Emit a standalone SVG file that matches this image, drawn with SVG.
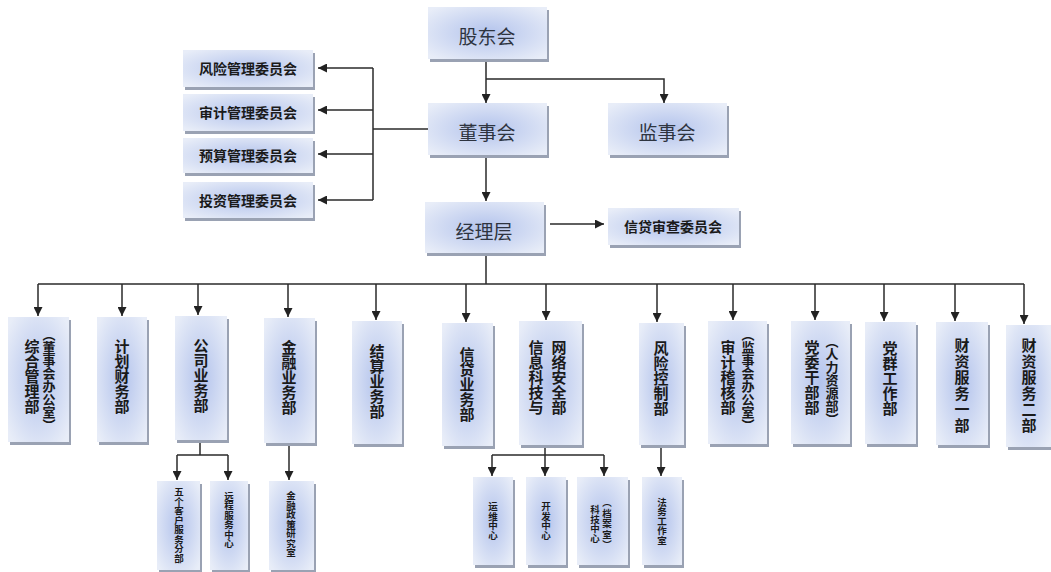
<svg xmlns="http://www.w3.org/2000/svg" width="1051" height="572" viewBox="0 0 1051 572">
<defs>
<radialGradient id="g" cx="50%" cy="50%" r="65%">
<stop offset="0" stop-color="#b3c3ec"/>
<stop offset="1" stop-color="#e8edf8"/>
</radialGradient>
<marker id="a" viewBox="0 0 10 10" refX="10" refY="5" markerWidth="9" markerHeight="9" markerUnits="userSpaceOnUse" orient="auto">
<path d="M0,0 L10,5 L0,10 z" fill="#222"/>
</marker>
<style>
.sh{fill:#9aa2b3}
.bx{fill:url(#g)}
.big{font-family:"Noto Sans CJK SC","Noto Sans",sans-serif;font-size:19px;fill:#2e3440;text-anchor:middle;dominant-baseline:central}
.cm{font-family:"Noto Sans CJK SC","Noto Sans",sans-serif;font-size:14px;font-weight:bold;fill:#1a1a1a;text-anchor:middle;dominant-baseline:central}
.v{font-family:"Noto Sans CJK SC","Noto Sans",sans-serif;font-size:15px;font-weight:bold;fill:#1a1a1a;text-anchor:middle;writing-mode:vertical-rl}
.vp{font-family:"Noto Sans CJK SC","Noto Sans",sans-serif;font-size:13px;font-weight:bold;fill:#1a1a1a;text-anchor:middle;writing-mode:vertical-rl}
.vs{font-family:"Noto Sans CJK SC","Noto Sans",sans-serif;font-size:9.5px;font-weight:bold;fill:#1a1a1a;text-anchor:middle;writing-mode:vertical-rl}
.ln{fill:none;stroke:#2a2a2a;stroke-width:1.5}
</style>
</defs>

<g id="connectors">
<path class="ln" d="M486,59 V103" marker-end="url(#a)"/>
<path class="ln" d="M486,79 H664 V103" marker-end="url(#a)"/>
<path class="ln" d="M428,129 H373"/>
<path class="ln" d="M373,68 V200"/>
<path class="ln" d="M373,68 H318" marker-end="url(#a)"/>
<path class="ln" d="M373,110 H318" marker-end="url(#a)"/>
<path class="ln" d="M373,154 H318" marker-end="url(#a)"/>
<path class="ln" d="M373,200 H318" marker-end="url(#a)"/>
<path class="ln" d="M486,155 V201" marker-end="url(#a)"/>
<path class="ln" d="M550,224 H604" marker-end="url(#a)"/>
<path class="ln" d="M486,253 V284"/>
<path class="ln" d="M38,284 H1024"/>
<path class="ln" d="M38,284 V316" marker-end="url(#a)"/>
<path class="ln" d="M122,284 V316" marker-end="url(#a)"/>
<path class="ln" d="M198,284 V315" marker-end="url(#a)"/>
<path class="ln" d="M288,284 V317" marker-end="url(#a)"/>
<path class="ln" d="M376,284 V320" marker-end="url(#a)"/>
<path class="ln" d="M466,284 V322" marker-end="url(#a)"/>
<path class="ln" d="M546,284 V320" marker-end="url(#a)"/>
<path class="ln" d="M657,284 V322" marker-end="url(#a)"/>
<path class="ln" d="M733,284 V320" marker-end="url(#a)"/>
<path class="ln" d="M815,284 V320" marker-end="url(#a)"/>
<path class="ln" d="M884,284 V321" marker-end="url(#a)"/>
<path class="ln" d="M955,284 V321" marker-end="url(#a)"/>
<path class="ln" d="M1024,284 V324" marker-end="url(#a)"/>
<path class="ln" d="M200,440 V455"/>
<path class="ln" d="M177,455 H228"/>
<path class="ln" d="M177,455 V480" marker-end="url(#a)"/>
<path class="ln" d="M228,455 V480" marker-end="url(#a)"/>
<path class="ln" d="M289,446 V480" marker-end="url(#a)"/>
<path class="ln" d="M545,445 V455"/>
<path class="ln" d="M492,455 H604"/>
<path class="ln" d="M492,455 V476" marker-end="url(#a)"/>
<path class="ln" d="M545,455 V476" marker-end="url(#a)"/>
<path class="ln" d="M604,455 V476" marker-end="url(#a)"/>
<path class="ln" d="M661,445 V476" marker-end="url(#a)"/>
</g>

<g id="n-gudonghui"><rect class="sh" x="430" y="10" width="119" height="52"/><rect class="bx" x="428" y="7" width="119" height="52"/><text class="big" x="487" y="35">股东会</text></g>
<g id="n-dongshihui"><rect class="sh" x="430" y="106" width="119" height="52"/><rect class="bx" x="428" y="103" width="119" height="52"/><text class="big" x="487" y="131">董事会</text></g>
<g id="n-jianshihui"><rect class="sh" x="610" y="106" width="119" height="52"/><rect class="bx" x="608" y="103" width="119" height="52"/><text class="big" x="667" y="131">监事会</text></g>
<g id="n-jinglic"><rect class="sh" x="427" y="205" width="119" height="51"/><rect class="bx" x="425" y="202" width="119" height="51"/><text class="big" x="484" y="230">经理层</text></g>
<g id="n-xindaishencha"><rect class="sh" x="610" y="211" width="131" height="37"/><rect class="bx" x="608" y="208" width="131" height="37"/><text class="cm" x="673" y="226">信贷审查委员会</text></g>

<g id="n-fengxianweiyuan"><rect class="sh" x="185" y="53" width="130" height="37"/><rect class="bx" x="183" y="50" width="130" height="37"/><text class="cm" x="248" y="68">风险管理委员会</text></g>
<g id="n-shenjiweiyuan"><rect class="sh" x="185" y="97" width="130" height="37"/><rect class="bx" x="183" y="94" width="130" height="37"/><text class="cm" x="248" y="112">审计管理委员会</text></g>
<g id="n-yusuanweiyuan"><rect class="sh" x="185" y="141" width="130" height="35"/><rect class="bx" x="183" y="138" width="130" height="35"/><text class="cm" x="248" y="155">预算管理委员会</text></g>
<g id="n-touziweiyuan"><rect class="sh" x="185" y="185" width="130" height="36"/><rect class="bx" x="183" y="182" width="130" height="36"/><text class="cm" x="248" y="200">投资管理委员会</text></g>

<g id="n-zonghe"><rect class="sh" x="10" y="320" width="61" height="125"/><rect class="bx" x="8" y="317" width="61" height="125"/><text class="v" x="32" y="376">综合管理部</text><text class="vp" x="49" y="380">（董事会办公室）</text></g>
<g id="n-jihua"><rect class="sh" x="99" y="320" width="50" height="125"/><rect class="bx" x="97" y="317" width="50" height="125"/><text class="v" x="122" y="376">计划财务部</text></g>
<g id="n-gongsi"><rect class="sh" x="177" y="319" width="52" height="124"/><rect class="bx" x="175" y="316" width="52" height="124"/><text class="v" x="201" y="375">公司业务部</text></g>
<g id="n-jinrong"><rect class="sh" x="266" y="321" width="51" height="125"/><rect class="bx" x="264" y="318" width="51" height="125"/><text class="v" x="289" y="377">金融业务部</text></g>
<g id="n-jiesuan"><rect class="sh" x="354" y="324" width="50" height="123"/><rect class="bx" x="352" y="321" width="50" height="123"/><text class="v" x="377" y="381">结算业务部</text></g>
<g id="n-xindai"><rect class="sh" x="444" y="326" width="51" height="123"/><rect class="bx" x="442" y="323" width="51" height="123"/><text class="v" x="467" y="384">信贷业务部</text></g>
<g id="n-xinxi"><rect class="sh" x="521" y="324" width="63" height="124"/><rect class="bx" x="519" y="321" width="63" height="124"/><text class="v" x="536" y="377">信息科技与</text><text class="v" x="559" y="377">网络安全部</text></g>
<g id="n-fengxian"><rect class="sh" x="641" y="326" width="45" height="122"/><rect class="bx" x="639" y="323" width="45" height="122"/><text class="v" x="661" y="378">风险控制部</text></g>
<g id="n-shenji"><rect class="sh" x="710" y="324" width="59" height="123"/><rect class="bx" x="708" y="321" width="59" height="123"/><text class="v" x="728" y="377">审计稽核部</text><text class="vp" x="748" y="380">（监事会办公室）</text></g>
<g id="n-dangwei"><rect class="sh" x="793" y="324" width="59" height="123"/><rect class="bx" x="791" y="321" width="59" height="123"/><text class="v" x="812" y="377">党委干部部</text><text class="vp" x="832" y="380">（人力资源部）</text></g>
<g id="n-dangqun"><rect class="sh" x="867" y="325" width="51" height="122"/><rect class="bx" x="865" y="322" width="51" height="122"/><text class="v" x="890" y="378">党群工作部</text></g>
<g id="n-caizi1"><rect class="sh" x="938" y="325" width="52" height="123"/><rect class="bx" x="936" y="322" width="52" height="123"/><text class="v" x="962" y="386" letter-spacing="1">财资服务一部</text></g>
<g id="n-caizi2"><rect class="sh" x="1008" y="328" width="45" height="122"/><rect class="bx" x="1006" y="325" width="45" height="122"/><text class="v" x="1029" y="386" letter-spacing="1">财资服务二部</text></g>

<g id="n-wuge"><rect class="sh" x="159" y="484" width="43" height="89"/><rect class="bx" x="157" y="481" width="43" height="89"/><text class="vs" x="179" y="525">五个客户服务分部</text></g>
<g id="n-yuancheng"><rect class="sh" x="212" y="484" width="38" height="89"/><rect class="bx" x="210" y="481" width="38" height="89"/><text class="vs" x="229" y="520" font-size="10px">远程服务中心</text></g>
<g id="n-zhengce"><rect class="sh" x="271" y="484" width="45" height="89"/><rect class="bx" x="269" y="481" width="45" height="89"/><text class="vs" x="291" y="524" font-size="10px">金融政策研究室</text></g>
<g id="n-yunwei"><rect class="sh" x="475" y="480" width="40" height="88"/><rect class="bx" x="473" y="477" width="40" height="88"/><text class="vs" x="493" y="521">运维中心</text></g>
<g id="n-kaifa"><rect class="sh" x="528" y="480" width="40" height="88"/><rect class="bx" x="526" y="477" width="40" height="88"/><text class="vs" x="546" y="521">开发中心</text></g>
<g id="n-keji"><rect class="sh" x="579" y="480" width="51" height="88"/><rect class="bx" x="577" y="477" width="51" height="88"/><text class="vs" x="595" y="524" font-size="10px">科技中心</text><text class="vs" x="607" y="524" font-size="10px" letter-spacing="1">（档案室）</text></g>
<g id="n-fawu"><rect class="sh" x="644" y="480" width="40" height="88"/><rect class="bx" x="642" y="477" width="40" height="88"/><text class="vs" x="662" y="521">法务工作室</text></g>
</svg>
